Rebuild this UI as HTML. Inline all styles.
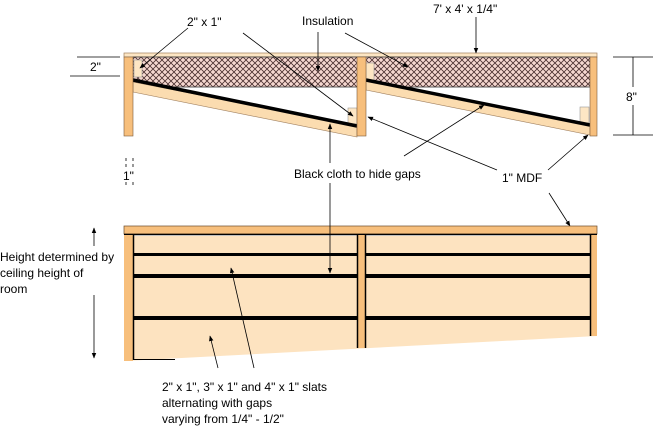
<!DOCTYPE html>
<html><head><style>
html,body{margin:0;padding:0;background:#fff;}
svg{display:block;}
text{font-family:"Liberation Sans",Arial,sans-serif;font-size:12px;fill:#000;}
</style></head><body>
<svg width="653" height="426" viewBox="0 0 653 426" xmlns="http://www.w3.org/2000/svg">
<defs>
<pattern id="hatch" width="6" height="6" patternUnits="userSpaceOnUse">
<rect width="6" height="6" fill="#f6d8d0"/>
<path d="M0 0L6 6M6 0L0 6" stroke="#4a3030" stroke-width="0.8"/>
</pattern>
<marker id="ar" viewBox="0 0 10 10" refX="9" refY="5" markerWidth="7" markerHeight="7" orient="auto-start-reverse">
<path d="M0 1L10 5L0 9z" fill="#000"/>
</marker>
</defs>

<rect x="124" y="53" width="473" height="4" fill="#fde6c4" stroke="#a08060" stroke-width="0.7"/>
<rect x="133" y="57" width="457" height="30" fill="url(#hatch)" stroke="#333" stroke-width="0.8"/>
<rect x="134" y="60" width="8" height="17" fill="#fde6c4" stroke="#999" stroke-width="0.6"/>
<rect x="348" y="108" width="9" height="16" fill="#fde6c4" stroke="#999" stroke-width="0.6"/>
<rect x="366" y="63" width="8" height="17" fill="#fde6c4" stroke="#999" stroke-width="0.6"/>
<rect x="580" y="107" width="9" height="16" fill="#fde6c4" stroke="#999" stroke-width="0.6"/>
<polygon points="133,82 357,126 357,137 133,92" fill="#fbdcb0" stroke="#a08060" stroke-width="0.6"/>
<line x1="133" y1="80" x2="357" y2="126" stroke="#000" stroke-width="3.5"/>
<polygon points="366,81 590,125 590,135 366,90" fill="#fbdcb0" stroke="#a08060" stroke-width="0.6"/>
<line x1="366" y1="80" x2="590" y2="125" stroke="#000" stroke-width="3.5"/>
<rect x="124" y="57" width="9" height="79" fill="#f7bf7c" stroke="#7a5a3a" stroke-width="0.6"/>
<rect x="357" y="57" width="9" height="79" fill="#f7bf7c" stroke="#7a5a3a" stroke-width="0.6"/>
<rect x="590" y="57" width="7" height="79" fill="#f7bf7c" stroke="#7a5a3a" stroke-width="0.6"/>

<line x1="77" y1="57" x2="120" y2="57" stroke="#000" stroke-width="0.8"/>
<line x1="70" y1="76" x2="120" y2="76" stroke="#000" stroke-width="0.8"/>
<text x="90" y="71">2"</text>
<line x1="613" y1="57" x2="653" y2="57" stroke="#000" stroke-width="0.8"/>
<line x1="613" y1="135" x2="653" y2="135" stroke="#000" stroke-width="0.8"/>
<line x1="633" y1="57" x2="633" y2="87" stroke="#000" stroke-width="0.8"/>
<line x1="633" y1="105" x2="633" y2="135" stroke="#000" stroke-width="0.8"/>
<text x="626" y="101">8"</text>
<g stroke="#000" stroke-width="0.8" stroke-dasharray="3,3">
<line x1="126" y1="158" x2="126" y2="186"/><line x1="133" y1="158" x2="133" y2="186"/>
</g>
<rect x="122" y="168" width="16" height="12" fill="#fff"/>
<text x="123" y="180">1"</text>

<text x="187" y="26">2" x 1"</text>
<text x="302" y="25">Insulation</text>
<text x="433" y="13">7' x 4' x 1/4"</text>
<text x="294" y="178">Black cloth to hide gaps</text>
<text x="502" y="182">1" MDF</text>

<g stroke="#000" stroke-width="0.8" fill="none">
<line x1="188" y1="28" x2="140" y2="68" marker-end="url(#ar)"/>
<line x1="243" y1="33" x2="353" y2="116" marker-end="url(#ar)"/>
<line x1="318" y1="32" x2="318" y2="71" marker-end="url(#ar)"/>
<line x1="345" y1="33" x2="408" y2="67" marker-end="url(#ar)"/>
<line x1="476" y1="17" x2="476" y2="53" marker-end="url(#ar)"/>
<line x1="330" y1="163" x2="330" y2="124" marker-end="url(#ar)"/>
<line x1="404" y1="156" x2="484" y2="105" marker-end="url(#ar)"/>
<line x1="497" y1="170" x2="368" y2="117" marker-end="url(#ar)"/>
<line x1="548" y1="170" x2="588" y2="135" marker-end="url(#ar)"/>
<line x1="549" y1="193" x2="570" y2="226" marker-end="url(#ar)"/>
</g>

<polygon points="124,236 597,236 597,336 124,361" fill="#fde3c0"/>
<rect x="124" y="226" width="473" height="8" fill="#f7bf7c" stroke="#6a4a2a" stroke-width="0.7"/>
<line x1="124" y1="234.5" x2="597" y2="234.5" stroke="#000" stroke-width="1.5"/>
<g stroke="#000">
<line x1="133" y1="254.5" x2="590" y2="254.5" stroke-width="3"/>
<line x1="133" y1="276" x2="590" y2="276" stroke-width="4"/>
<line x1="133" y1="318" x2="590" y2="318" stroke-width="4"/>
</g>
<rect x="124" y="235" width="9" height="126" fill="#f7bf7c"/>
<line x1="133.5" y1="235" x2="133.5" y2="360" stroke="#000" stroke-width="1.5"/>
<line x1="133" y1="359.5" x2="175" y2="359.5" stroke="#000" stroke-width="1"/>
<rect x="357" y="235" width="9" height="113" fill="#f7bf7c"/>
<line x1="357.5" y1="235" x2="357.5" y2="348" stroke="#000" stroke-width="1.5"/>
<line x1="365.5" y1="235" x2="365.5" y2="348" stroke="#000" stroke-width="1.5"/>
<rect x="590" y="235" width="7" height="101" fill="#f7bf7c"/>
<line x1="590.5" y1="235" x2="590.5" y2="336" stroke="#000" stroke-width="1.5"/>

<g stroke="#000" stroke-width="0.8">
<line x1="330" y1="183" x2="330" y2="273" marker-end="url(#ar)"/>
<line x1="94" y1="246" x2="94" y2="228" marker-end="url(#ar)"/>
<line x1="94" y1="295" x2="94" y2="358" marker-end="url(#ar)"/>
<line x1="218" y1="368" x2="210" y2="336" marker-end="url(#ar)"/>
<line x1="254" y1="368" x2="231" y2="268" marker-end="url(#ar)"/>
</g>
<text x="0" y="261">Height determined by</text>
<text x="0" y="277">ceiling height of</text>
<text x="0" y="293">room</text>
<text x="162" y="391">2" x 1", 3" x 1" and 4" x 1" slats</text>
<text x="162" y="407">alternating with gaps</text>
<text x="162" y="423">varying from 1/4" - 1/2"</text>
</svg>
</body></html>
